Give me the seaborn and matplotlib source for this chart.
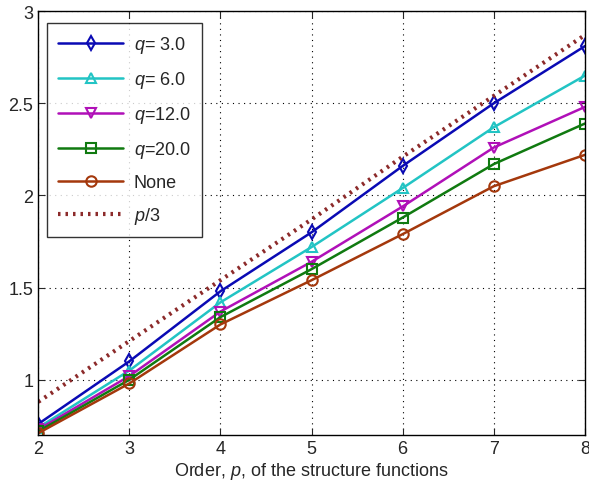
import numpy as np
import pandas as pd
import matplotlib
matplotlib.use("Agg")
import matplotlib.pyplot as plt
import seaborn as sns

orders = [2, 3, 4, 5, 6, 7, 8]
q3 = [0.76, 1.10, 1.48, 1.80, 2.16, 2.50, 2.81]
q6 = [0.74, 1.05, 1.42, 1.72, 2.04, 2.37, 2.65]
q12 = [0.73, 1.02, 1.37, 1.64, 1.94, 2.26, 2.48]
q20 = [0.72, 1.00, 1.34, 1.60, 1.88, 2.17, 2.39]
none = [0.71, 0.98, 1.30, 1.54, 1.79, 2.05, 2.22]
p_third = [0.88, 1.21, 1.54, 1.87, 2.21, 2.54, 2.87]

series = [
    ("$q$= 3.0", q3, "#0a0ab4", "d"),
    ("$q$= 6.0", q6, "#22c4c4", "^"),
    ("$q$=12.0", q12, "#b010b8", "v"),
    ("$q$=20.0", q20, "#107a10", "s"),
    ("None", none, "#a4380c", "o"),
]

sns.set_style("ticks")
plt.rcParams["font.family"] = ["Liberation Sans", "DejaVu Sans"]
plt.rcParams["mathtext.fontset"] = "custom"
plt.rcParams["mathtext.it"] = "Liberation Sans:italic"
plt.rcParams["mathtext.rm"] = "Liberation Sans"

fig = plt.figure(figsize=(5.89, 4.85), dpi=100)
ax = fig.add_axes([0.065, 0.101, 0.928, 0.874])

for label, vals, color, marker in series:
    df = pd.DataFrame({"p": orders, "v": vals})
    sns.lineplot(data=df, x="p", y="v", ax=ax, color=color, marker=marker,
                 markersize=7.5, markerfacecolor="none", markeredgecolor=color,
                 markeredgewidth=1.5, linewidth=1.8, label=label)

df = pd.DataFrame({"p": orders, "v": p_third})
sns.lineplot(data=df, x="p", y="v", ax=ax, color="#8c2a2a", linewidth=3,
             linestyle=(0, (0.6, 1.2)), label="$p$/3")

ax.set_xlim(2, 8)
ax.set_ylim(0.7, 3)
ax.set_xticks(orders)
ax.set_yticks([1, 1.5, 2, 2.5, 3])
ax.set_yticklabels(["1", "1.5", "2", "2.5", "3"])
ax.grid(True, color="black", linestyle=(0, (1, 4)), linewidth=0.8)
ax.tick_params(direction="in", top=True, right=True, labelsize=13, length=5)
for s in ax.spines.values():
    s.set_linewidth(1.0)
    s.set_color("black")
ax.set_xlabel("Order, $p$, of the structure functions", fontsize=13, labelpad=2)
ax.set_ylabel("")

leg = ax.legend(loc="upper left", fontsize=13, frameon=True, fancybox=False,
                edgecolor="black", borderpad=0.6, labelspacing=0.78,
                handlelength=3.6, handletextpad=0.6,
                bbox_to_anchor=(0.0, 0.993))
leg.get_frame().set_linewidth(1.0)

fig.savefig("out.png", dpi=100)
